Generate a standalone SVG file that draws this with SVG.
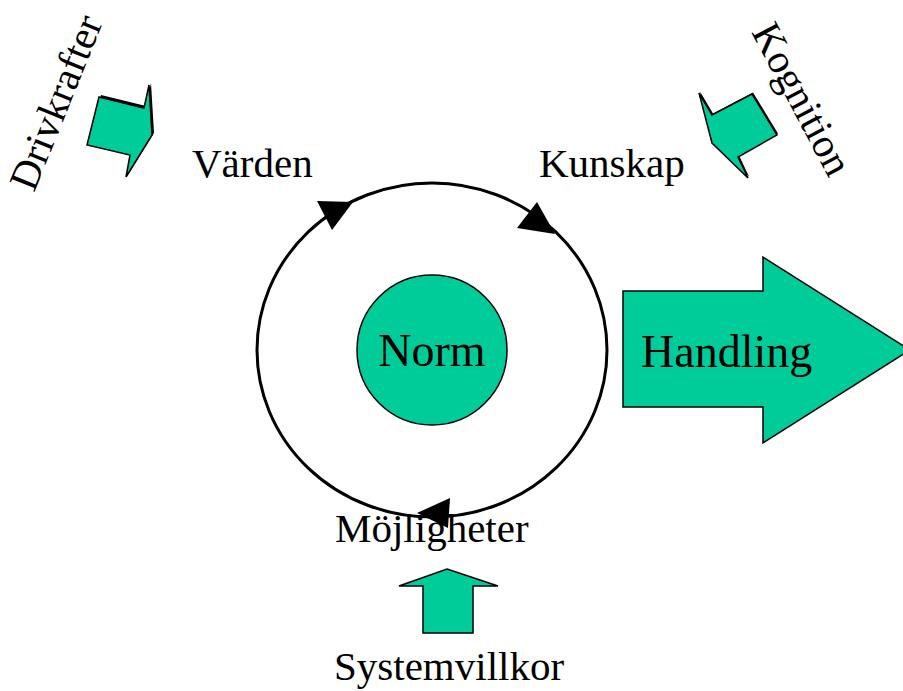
<svg xmlns="http://www.w3.org/2000/svg" width="903" height="691" viewBox="0 0 903 691">
<style>
.t{font-family:"Liberation Serif","Times New Roman",serif;fill:#000}
.l{font-size:41px}
.b{font-size:46px}
.g{fill:#00CC99;stroke:#000;stroke-width:1.5;stroke-linejoin:miter}
.sh{fill:#000}
</style>
<rect width="903" height="691" fill="#fff"/>
<g id="connectors">
<ellipse cx="432" cy="350" rx="175" ry="167" fill="none" stroke="#000" stroke-width="3"/>
<polygon points="317,201 353,202 332,230" fill="#000"/>
<polygon points="537,202 517,228 555,234" fill="#000"/>
<polygon points="417,513 450,498 448,528" fill="#000"/>
</g>
<g id="norm">
<circle cx="432" cy="350" r="75" class="g" stroke-width="3"/>
<text class="t b" x="432" y="366" text-anchor="middle">Norm</text>
</g>
<g id="handling">
<polygon class="g" points="623,291 763,291 763,257 910,350 763,443 763,407 623,407"/>
<text class="t b" x="641" y="367">Handling</text>
</g>
<g id="varden"><text class="t l" x="192" y="177">Värden</text></g>
<g id="kunskap"><text class="t l" x="539" y="177">Kunskap</text></g>
<g id="mojligheter"><text class="t l" x="335" y="542">Möjligheter</text></g>
<g id="systemvillkor">
<polygon class="g" points="447,569 498,586 473,586 473,633 423,633 423,586 399,586"/>
<text class="t l" x="334" y="680">Systemvillkor</text>
</g>
<g id="drivkrafter">
<polygon class="sh" points="101,95 146,106 151,83 154,133 128,175 132,153 89,143"/>
<polygon class="g" points="99,97 144,108 149,85 152,135 126,177 130,155 87,145" stroke-width="1"/>
<text class="t l" transform="translate(34,193) rotate(-68)">Drivkrafter</text>
</g>
<g id="kognition">
<polygon class="sh" points="700,91.5 713,113.5 753,92.5 778,133.5 739,155.5 749,176.5 713,141.5"/>
<polygon class="g" points="699,93 712,115 752,94 777,135 738,157 748,178 712,143" stroke-width="1"/>
<text class="t l" transform="translate(751,32) rotate(62)">Kognition</text>
</g>
</svg>
